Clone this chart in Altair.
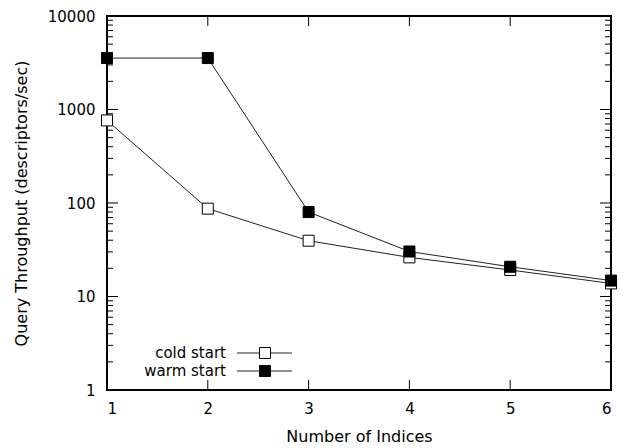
import altair as alt
import pandas as pd

# ---- data ----
indices = [1, 2, 3, 4, 5, 6]
cold_start = [764, 87, 39.5, 26.2, 19.2, 13.8]
warm_start = [3550, 3550, 80, 30.3, 20.8, 14.8]
series_names = ["cold start", "warm start"]
y_major = [1, 10, 100, 1000, 10000]
y_minor = [m * 10 ** k for k in range(4) for m in range(2, 10)]
x_major = [1, 2, 3, 4, 5, 6]

W, H = 504, 374
FONT = "DejaVu Sans"

df = pd.DataFrame({
    "x": indices * 2,
    "y": cold_start + warm_start,
    "series": [series_names[0]] * len(indices) + [series_names[1]] * len(indices),
})

xscale = alt.Scale(domain=[1, 6], nice=False, zero=False)
yscale = alt.Scale(type="log", domain=[1, 10000], nice=False)
fillscale = alt.Scale(domain=series_names, range=["white", "black"])

xaxis = alt.Axis(values=x_major, title="Number of Indices", format="d",
                 labelPadding=11, titlePadding=12)
yaxis = alt.Axis(values=y_major, title="Query Throughput (descriptors/sec)", format="d",
                 labelPadding=12, titlePadding=18, labelBound=False)

base = alt.Chart(df)
lines = base.mark_line(color="#222222", strokeWidth=1).encode(
    x=alt.X("x:Q", scale=xscale, axis=xaxis),
    y=alt.Y("y:Q", scale=yscale, axis=yaxis),
    detail="series:N",
)
points = base.mark_square(size=121, stroke="black", strokeWidth=1, opacity=1).encode(
    x=alt.X("x:Q", scale=xscale, axis=xaxis),
    y=alt.Y("y:Q", scale=yscale, axis=yaxis),
    fill=alt.Fill("series:N", scale=fillscale, legend=None),
)

ymaj_df = pd.DataFrame({"y": y_major})
ymin_df = pd.DataFrame({"y": y_minor})
xmaj_df = pd.DataFrame({"x": x_major})


def ytick(d, x0, x1):
    return alt.Chart(d).mark_rule(color="black", strokeWidth=1).encode(
        y=alt.Y("y:Q", scale=yscale, axis=yaxis), x=alt.value(x0), x2=alt.value(x1))


def xtick(d, y0, y1):
    return alt.Chart(d).mark_rule(color="black", strokeWidth=1).encode(
        x=alt.X("x:Q", scale=xscale, axis=xaxis), y=alt.value(y0), y2=alt.value(y1))


ticks = [
    ytick(ymin_df, 0, 6), ytick(ymaj_df, 0, 11),
    ytick(ymin_df, W, W - 6), ytick(ymaj_df, W, W - 11),
    xtick(xmaj_df, H, H - 10), xtick(xmaj_df, 0, 10),
]

# ---- legend (inside plot, bottom-left) ----
legend_df = pd.DataFrame({"series": series_names})
legend_layers = []
for i, name in enumerate(series_names):
    ly = 337 + i * 18
    sub = alt.Chart(legend_df).transform_filter(alt.datum.series == name)
    legend_layers.append(sub.mark_text(align="right", baseline="middle", font=FONT,
                                       fontSize=15, color="black").encode(
        text="series:N", x=alt.value(119), y=alt.value(ly)))
    legend_layers.append(sub.mark_rule(color="#222222", strokeWidth=1).encode(
        x=alt.value(130), x2=alt.value(185), y=alt.value(ly)))
    legend_layers.append(sub.mark_square(size=121, stroke="black", strokeWidth=1, opacity=1).encode(
        x=alt.value(158), y=alt.value(ly),
        fill=alt.Fill("series:N", scale=fillscale, legend=None)))

chart = alt.layer(*ticks, lines, points, *legend_layers).properties(
    width=W, height=H,
    autosize=alt.AutoSizeParams(type="none"),
    padding={"left": 99, "top": 8, "right": 14, "bottom": 58},
).configure_view(
    stroke="black", strokeWidth=2,
).configure_axis(
    domain=False, ticks=False, grid=False,
    labelFont=FONT, labelFontSize=15, labelColor="black",
    titleFont=FONT, titleFontSize=16, titleFontWeight="normal", titleColor="black",
)

chart.save("out.html", embed_options={"renderer": "svg", "actions": False})
